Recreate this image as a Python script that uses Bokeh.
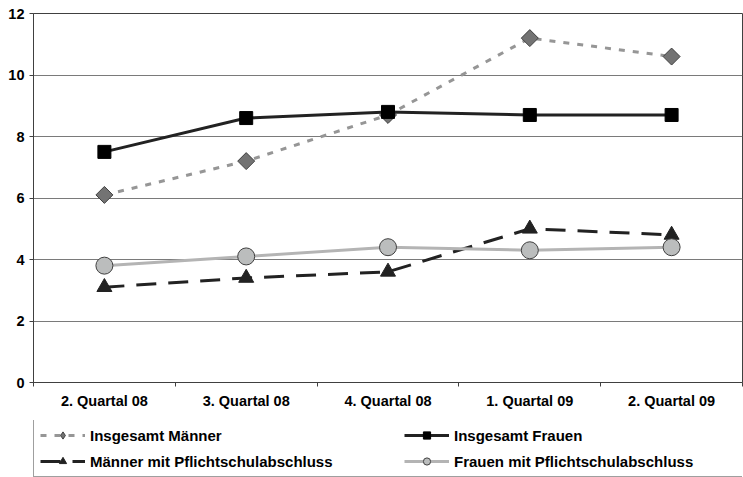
import numpy as np
from bokeh.plotting import figure
from bokeh.layouts import column
from bokeh.models import Range1d, FixedTicker, Legend, LegendItem
from bokeh.embed import file_html
from bokeh.resources import INLINE

categories = ["2. Quartal 08", "3. Quartal 08", "4. Quartal 08", "1. Quartal 09", "2. Quartal 09"]
insgesamt_maenner = [6.1, 7.2, 8.7, 11.2, 10.6]
insgesamt_frauen = [7.5, 8.6, 8.8, 8.7, 8.7]
maenner_pflicht = [3.1, 3.4, 3.6, 5.0, 4.8]
frauen_pflicht = [3.8, 4.1, 4.4, 4.3, 4.4]
y_ticks = [0, 2, 4, 6, 8, 10, 12]

xs = [i + 1 for i in range(len(categories))]
FONT = "Liberation Sans"

p = figure(width=743, height=420, output_backend="svg", toolbar_location=None,
           x_range=Range1d(0.5, len(categories) + 0.5), y_range=Range1d(0, 12),
           min_border_left=33, min_border_right=1, min_border_top=13, min_border_bottom=38)

p.outline_line_color = "#404040"
p.outline_line_width = 1
p.background_fill_color = "white"
p.border_fill_color = "white"

# axes
p.xaxis.ticker = FixedTicker(ticks=xs, minor_ticks=[x - 0.5 for x in xs] + [xs[-1] + 0.5])
p.xaxis.major_label_overrides = {x: c for x, c in zip(xs, categories)}
p.xaxis.major_tick_line_color = None
p.xaxis.major_tick_out = 0
p.xaxis.major_tick_in = 0
p.xaxis.minor_tick_out = 4
p.xaxis.minor_tick_in = 0
p.xaxis.minor_tick_line_color = "#404040"
p.xaxis.major_label_standoff = 6
p.xaxis.axis_line_color = "#404040"

p.yaxis.ticker = FixedTicker(ticks=y_ticks)
p.yaxis.major_tick_out = 4
p.yaxis.major_tick_in = 0
p.yaxis.minor_tick_line_color = None
p.yaxis.major_label_standoff = 5
p.yaxis.axis_line_color = "#404040"
p.yaxis.major_tick_line_color = "#404040"

for ax in (p.xaxis, p.yaxis):
    ax.major_label_text_font = FONT
    ax.major_label_text_font_style = "bold"
    ax.major_label_text_font_size = "14.5px"
    ax.major_label_text_color = "black"

p.xgrid.grid_line_color = None
p.ygrid.ticker = FixedTicker(ticks=y_ticks)
p.ygrid.grid_line_color = "#7a7a7a"
p.ygrid.grid_line_width = 1

# series styles
st_im = dict(line_color="#969696", line_width=3, line_dash="6 8")
mk_im = dict(fill_color="#737373", line_color="#404040", line_width=1)
st_if = dict(line_color="#222222", line_width=3)
mk_if = dict(marker="square", fill_color="black", line_color="black")
st_mp = dict(line_color="#222222", line_width=3, line_dash="20 12")
mk_mp = dict(marker="triangle", fill_color="#222222", line_color="#222222")
st_fp = dict(line_color="#b4b4b4", line_width=3)
mk_fp = dict(marker="circle", fill_color="#bbbdbd", line_color="#404040", line_width=1)

p.line(xs, insgesamt_maenner, **st_im)
p.scatter(xs, insgesamt_maenner, marker="square", angle=np.pi / 4, size=12, **mk_im)
p.line(xs, insgesamt_frauen, **st_if)
p.scatter(xs, insgesamt_frauen, size=13, **mk_if)
p.line(xs, maenner_pflicht, **st_mp)
p.scatter(xs, maenner_pflicht, size=15, **mk_mp)
p.line(xs, frauen_pflicht, **st_fp)
p.scatter(xs, frauen_pflicht, size=17, **mk_fp)

# legend strip below the chart (sample renderers hold no visible data)
lg = figure(width=743, height=57, output_backend="svg", toolbar_location=None,
            x_range=Range1d(0, 1), y_range=Range1d(0, 1),
            x_axis_location=None, y_axis_location=None, min_border=0)
lg.outline_line_color = None
lg.grid.grid_line_color = None

nan = [np.nan]
e_l1 = lg.line(nan, nan, **st_im)
e_s1 = lg.scatter(nan, nan, marker="diamond", **mk_im)
e_l2 = lg.line(nan, nan, **st_if)
e_s2 = lg.scatter(nan, nan, **mk_if)
e_l3 = lg.line(nan, nan, **st_mp)
e_s3 = lg.scatter(nan, nan, **mk_mp)
e_l4 = lg.line(nan, nan, **st_fp)
e_s4 = lg.scatter(nan, nan, **mk_fp)

legend = Legend(items=[
    LegendItem(label="Insgesamt Männer", renderers=[e_l1, e_s1]),
    LegendItem(label="Insgesamt Frauen", renderers=[e_l2, e_s2]),
    LegendItem(label="Männer mit Pflichtschulabschluss", renderers=[e_l3, e_s3]),
    LegendItem(label="Frauen mit Pflichtschulabschluss", renderers=[e_l4, e_s4]),
], orientation="horizontal", ncols=2, location=(0, 0),
    glyph_width=45, glyph_height=18, label_height=18, label_width=306,
    label_standoff=5, spacing=8, padding=6, margin=0,
    border_line_color="#404040", border_line_width=1,
    background_fill_color="white", background_fill_alpha=1,
    label_text_font=FONT, label_text_font_style="bold", label_text_font_size="15px",
    label_text_color="black")
lg.add_layout(legend, "center")

open("out.html", "w").write(file_html(column(p, lg), INLINE))
